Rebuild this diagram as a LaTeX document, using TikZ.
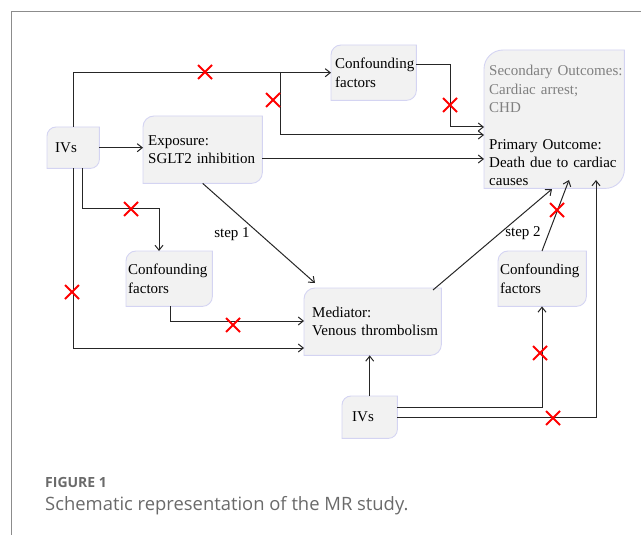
\documentclass[tikz,border=0pt]{standalone}
\usepackage{fontspec}
\setmainfont{Liberation Serif}
\newfontfamily\capfont{Open Sans}
\usetikzlibrary{arrows.meta,backgrounds}
\definecolor{boxfill}{HTML}{F2F2F2}
\definecolor{boxedge}{HTML}{D4D4F2}
\definecolor{linec}{HTML}{262626}
\definecolor{capgray}{HTML}{6A6A6A}
\definecolor{framegray}{HTML}{8C8C8C}
\definecolor{secgray}{HTML}{808080}
\newcommand\tlbrbox[2]{%
  \path[fill=boxfill,draw=boxedge,line width=0.9pt]
   (#1.south west) -- ([yshift=-#2]#1.north west) arc[start angle=180,end angle=90,radius=#2]
   -- (#1.north east) -- ([yshift=#2]#1.south east) arc[start angle=0,end angle=-90,radius=#2] -- cycle;}
\newcommand\redx[1]{%
  \draw[redx] ([shift={(-7pt,-7pt)}]#1) -- ([shift={(7pt,7pt)}]#1)
              ([shift={(-7pt,7pt)}]#1) -- ([shift={(7pt,-7pt)}]#1);}
\tikzset{
  box/.style={anchor=north west, inner ysep=0pt, align=left, font=\fontsize{15}{18.3}\selectfont, text=black},
  arr/.style={draw=linec, line width=1pt, -{Straight Barb[length=5pt,width=8pt]}},
  redx/.style={draw=red, line width=1.8pt},
  lbl/.style={inner sep=0pt, font=\fontsize{15}{18.3}\selectfont}
}
\begin{document}
\begin{tikzpicture}[x=1pt,y=-1pt]
\useasboundingbox (0,0) rectangle (641,535);
\draw[framegray, line width=1pt] (11,535) -- (11,12) -- (641,12);

\node[box, inner xsep=4pt, minimum width=85pt, minimum height=55pt, text width=77pt] (conftop) at (331,45) {Confounding\\factors};
\node[box, inner xsep=5pt, minimum width=140pt, minimum height=138pt, text width=130pt] (out) at (484,50)
  {\color{secgray}\rule{0pt}{23.5pt}\mbox{Secondary Outcomes:}\\Cardiac arrest;\\CHD\\[18.3pt]\color{black}Primary Outcome:\\\mbox{Death due to cardiac}\\causes};
\node[box, inner xsep=8pt, minimum width=52pt, minimum height=41pt, text width=36pt] (ivs1) at (47,127) {IVs};
\node[box, inner xsep=5pt, minimum width=119pt, minimum height=67pt, text width=109pt] (expo) at (143,116) {Exposure:\\SGLT2 inhibition};
\node[box, inner xsep=2pt, minimum width=86pt, minimum height=55pt, text width=82pt] (confl) at (126,251) {Confounding\\factors};
\node[box, inner xsep=8pt, minimum width=137pt, minimum height=67pt, text width=121pt] (med) at (304,288) {Mediator:\\\mbox{Venous thrombolism}};
\node[box, inner xsep=2pt, minimum width=88pt, minimum height=55pt, text width=84pt] (confr) at (498,251) {Confounding\\factors};
\node[box, inner xsep=10pt, minimum width=55pt, minimum height=42pt, text width=35pt] (ivs2) at (342,396) {IVs};

\begin{scope}[on background layer]
\tlbrbox{conftop}{10pt}
\tlbrbox{out}{19pt}
\tlbrbox{ivs1}{9pt}
\tlbrbox{expo}{11pt}
\tlbrbox{confl}{10pt}
\tlbrbox{med}{11pt}
\tlbrbox{confr}{10pt}
\tlbrbox{ivs2}{9pt}
\end{scope}

\node[lbl] (s1) at (232,234) {step 1};
\node[lbl] (s2) at (523,233) {step 2};

\node[anchor=base west, inner sep=0pt, font=\capfont\bfseries\fontsize{14}{16}\selectfont, text=capgray] (fig) at (45,487) {FIGURE 1};
\node[anchor=base west, inner sep=0pt, font=\capfont\fontsize{18.4}{22}\selectfont, text=capgray] (cap) at (45,510) {Schematic representation of the MR study.};

\coordinate (j1) at (280,72);
\coordinate (m1) at (315,283);
\coordinate (m2) at (433,290);
\coordinate (o1) at (552,189);
\coordinate (o2) at (569,180);
\coordinate (o3) at (596,180);

\draw[arr] (ivs1.north) |- (conftop.west);
\draw[arr] (j1) |- (out.west |- 0,135);
\draw[arr] (conftop.east |- 0,65) -- (450,65) |- (out.west |- 0,127);
\draw[arr] (expo.east |- 0,159) -- (out.west |- 0,159);
\draw[arr] (ivs1.east) -- (expo.west |- ivs1.east);
\draw[arr] (ivs1.south) |- (med.west |- 0,348);
\draw[arr] (ivs1.south -| 82,0) |- (159,208) -- (confl.north -| 159,0);
\draw[arr] (confl.south -| 170,0) |- (med.west |- 0,321);
\draw[arr] (expo.south) -- (m1);
\draw[arr] (m2) -- (o1);
\draw[arr] (confr.north -| 542,0) -- (o2);
\draw[arr] (ivs2.north) -- (ivs2.north |- med.south);
\draw[arr] (ivs2.east |- 0,407) -| (confr.south -| 542,0);
\draw[arr] (ivs2.east |- 0,417) -| (o3);

\redx{205,72}
\redx{273,100}
\redx{450,105}
\redx{131,209}
\redx{72,292}
\redx{233,325}
\redx{557,210}
\redx{540,353}
\redx{553,418}
\end{tikzpicture}
\end{document}
